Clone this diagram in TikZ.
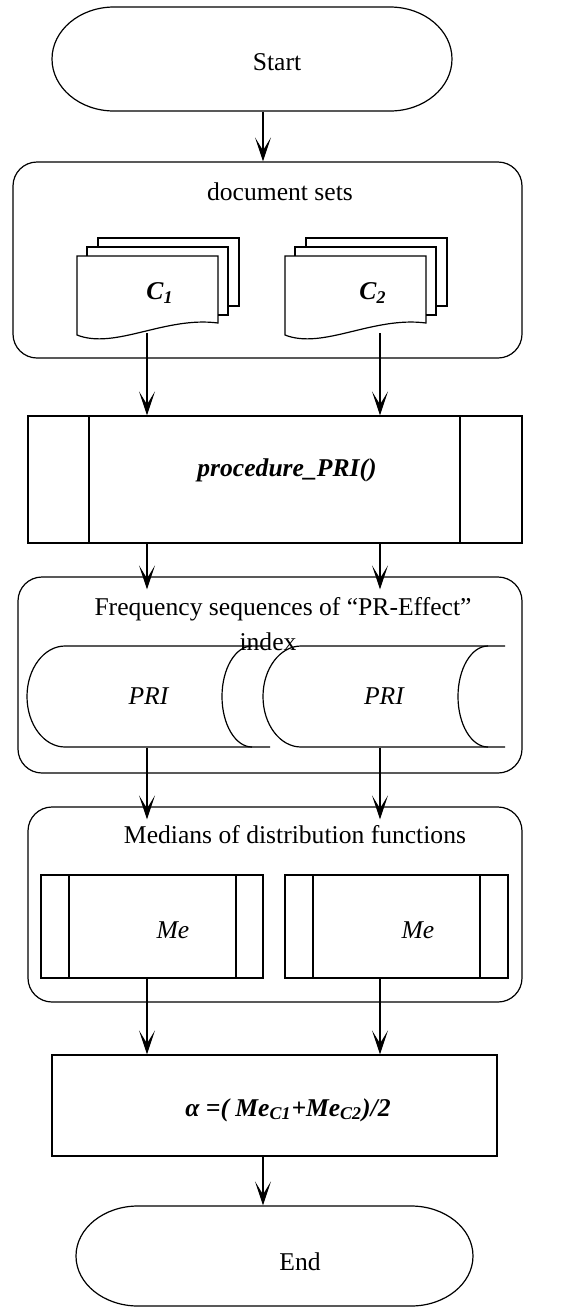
\documentclass[tikz,border=0pt]{standalone}
\usepackage{fontspec}
\setmainfont{Liberation Serif}
\usetikzlibrary{arrows.meta}

\begin{document}
\begin{tikzpicture}[x=0.5pt,y=-0.5pt,line width=0.6pt,
	font=\fontsize{12.8}{15}\selectfont,
	arr/.style={-{Stealth[length=12pt,width=8pt,inset=6.5pt]}},
	frame/.style={draw,rectangle,rounded corners=12pt},
	blk/.style={draw,rectangle},
	ghost/.style={rectangle,inner sep=0pt}]
	\useasboundingbox (0,0) rectangle (571,1308);
	% columns of the arrows
	\coordinate (colL) at (147,0);
	\coordinate (colM) at (263,0);
	\coordinate (colR) at (380,0);
	% Start
	\node[ghost,minimum width=200pt,minimum height=52pt] (start) at (252,59) {};
	\draw (114,7)--(390,7) arc[start angle=-90,end angle=90,x radius=62,y radius=52]--(114,111) arc[start angle=90,end angle=270,x radius=62,y radius=52]--cycle;
	\node (starttxt) at (277,62) {Start};
	% document sets
	\node[frame,minimum width=254.5pt,minimum height=98pt] (docsets) at (267.5,260) {};
	\node (docsetstxt) at (280,192) {document sets};
	\foreach \x in {77,285}{
		\draw (\x+21,247)--(\x+21,238)--(\x+162,238)--(\x+162,306)--(\x+151,306);
		\draw (\x+10,256)--(\x+10,247)--(\x+151,247)--(\x+151,315)--(\x+141,315);
		\draw (\x,256)--(\x+141,256)--(\x+141,323) .. controls (\x+88,316) and (\x+38,350) .. (\x,335)--cycle;
	}
	\node (c1) at (160,293) {\bfseries\itshape C\textsubscript{1}};
	\node (c2) at (373,293) {\bfseries\itshape C\textsubscript{2}};
	\coordinate (d1) at (147,333);
	\coordinate (d2) at (380,333);
	% procedure
	\node[blk,minimum width=247pt,minimum height=63.5pt] (proc) at (275,479.5) {};
	\draw (89,416)--(89,543) (460,416)--(460,543);
	\node (proctxt) at (287,470) {\bfseries\itshape procedure\_PRI()};
	% frequency sequences
	\node[frame,minimum width=252pt,minimum height=98pt] (freq) at (270,675) {};
	\node[align=center] (freqtxt) at (283,624) {Frequency sequences of “PR-Effect”\\[2.5pt] index\kern15pt};
	\coordinate (freqin) at ([yshift=-6.5pt]freq.north);
	\node[ghost,minimum width=121.5pt,minimum height=50.5pt] (pri1) at (148.5,696.5) {\itshape PRI};
	\node[ghost,minimum width=121pt,minimum height=50.5pt] (pri2) at (384,696.5) {\itshape PRI};
	\draw (270,646)--(65,646) arc[start angle=-90,end angle=-270,x radius=38,y radius=50.5]--(270,747);
	\draw (252,646) arc[start angle=-90,end angle=-270,x radius=30,y radius=50.5];
	\draw (505,646)--(301,646) arc[start angle=-90,end angle=-270,x radius=38,y radius=50.5]--(505,747);
	\draw (488,646) arc[start angle=-90,end angle=-270,x radius=30,y radius=50.5];
	% medians
	\node[frame,minimum width=247pt,minimum height=97.5pt] (med) at (275,904.5) {};
	\node (medtxt) at (295,835) {Medians of distribution functions};
	\coordinate (medin) at ([yshift=-6.5pt]med.north);
	\node[blk,minimum width=111pt,minimum height=51.5pt] (me1) at (152,926.5) {};
	\node[blk,minimum width=111.5pt,minimum height=51.5pt] (me2) at (396.5,926.5) {};
	\draw (69,875)--(69,978) (236,875)--(236,978) (313,875)--(313,978) (480,875)--(480,978);
	\node (me1txt) at (173,930) {\itshape Me};
	\node (me2txt) at (418,930) {\itshape Me};
	% alpha
	\node[blk,minimum width=222.5pt,minimum height=50.5pt] (alpha) at (274.5,1105.5) {};
	\node (alphatxt) at (288,1110) {\bfseries\itshape α =( Me\textsubscript{C1}+Me\textsubscript{C2})/2};
	% End
	\node[ghost,minimum width=198.5pt,minimum height=50pt] (finish) at (274.5,1256) {};
	\draw (138,1206)--(411,1206) arc[start angle=-90,end angle=90,x radius=62,y radius=50]--(138,1306) arc[start angle=90,end angle=270,x radius=62,y radius=50]--cycle;
	\node (finishtxt) at (300,1262) {End};
	% arrows
	\draw[arr] (start.south -| colM)--(docsets.north -| colM);
	\draw[arr] (d1)--(proc.north -| d1);
	\draw[arr] (d2)--(proc.north -| d2);
	\draw[arr] (proc.south -| colL)--(freqin -| colL);
	\draw[arr] (proc.south -| colR)--(freqin -| colR);
	\draw[arr] (pri1.south -| colL)--(medin -| colL);
	\draw[arr] (pri2.south -| colR)--(medin -| colR);
	\draw[arr] (me1.south -| colL)--(alpha.north -| colL);
	\draw[arr] (me2.south -| colR)--(alpha.north -| colR);
	\draw[arr] (alpha.south -| colM)--(finish.north -| colM);
\end{tikzpicture}
\end{document}
